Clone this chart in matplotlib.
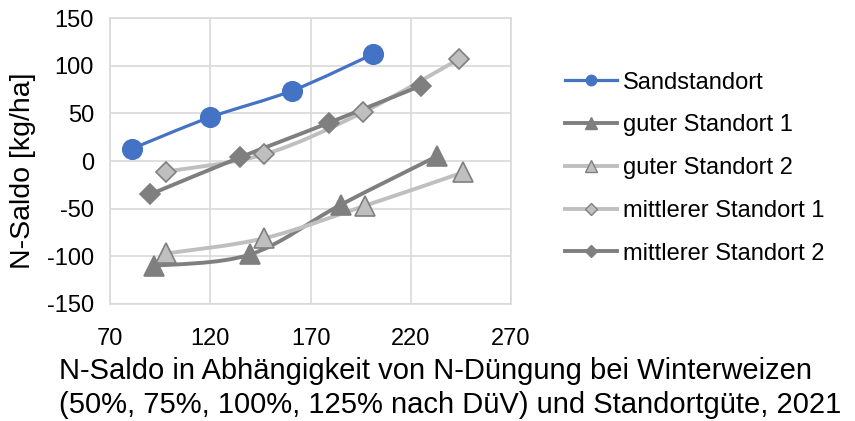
import numpy as np
import matplotlib
matplotlib.use('Agg')
import matplotlib.pyplot as plt
from matplotlib.path import Path
from matplotlib.patches import PathPatch
from matplotlib.lines import Line2D

plt.rcParams['font.family'] = ['Liberation Sans', 'DejaVu Sans']

# values
series_names = ['Sandstandort', 'guter Standort 1', 'guter Standort 2',
                'mittlerer Standort 1', 'mittlerer Standort 2']
x_sand = [81, 120, 161, 201]
y_sand = [13, 46, 74, 112]
x_gut1 = [92, 140, 185, 233]
y_gut1 = [-110, -98, -46, 5]
x_gut2 = [98, 147, 197, 246]
y_gut2 = [-97, -81, -47, -12]
x_mit1 = [98, 147, 196, 244]
y_mit1 = [-11, 7, 51, 107]
x_mit2 = [90, 135, 179, 225]
y_mit2 = [-35, 4, 40, 79]

xticks = [70, 120, 170, 220, 270]
yticks = [-150, -100, -50, 0, 50, 100, 150]

title_1 = 'N-Saldo in Abhängigkeit von N-Düngung bei Winterweizen'
title_2 = '(50%, 75%, 100%, 125% nach DüV) und Standortgüte, 2021'

blue = '#4472C4'
dark = '#7F7F7F'
light = '#BFBFBF'

styles = [
    dict(color=blue, lw=2.3, marker='o', mfc=blue, mec=blue, ms=14, lms=7.5),
    dict(color=dark, lw=2.8, marker='^', mfc=dark, mec=dark, ms=15, lms=9),
    dict(color=light, lw=2.8, marker='^', mfc=light, mec=dark, ms=15, lms=9),
    dict(color=light, lw=2.8, marker='D', mfc=light, mec=dark, ms=10.5, lms=6.5),
    dict(color=dark, lw=2.8, marker='D', mfc=dark, mec=dark, ms=10.5, lms=6.5),
]
data = [(x_sand, y_sand), (x_gut1, y_gut1), (x_gut2, y_gut2),
        (x_mit1, y_mit1), (x_mit2, y_mit2)]


def smooth_path(xs, ys):
    # Excel-like smoothed line: cubic bezier between the points
    p = np.column_stack([xs, ys]).astype(float)
    verts = [p[0]]
    codes = [Path.MOVETO]
    n = len(p)
    for i in range(n - 1):
        p0 = p[i - 1] if i > 0 else p[i]
        p1 = p[i]
        p2 = p[i + 1]
        p3 = p[i + 2] if i + 2 < n else p[i + 1]
        c1 = p1 + (p2 - p0) / 6.0
        c2 = p2 - (p3 - p1) / 6.0
        verts += [c1, c2, p2]
        codes += [Path.CURVE4] * 3
    return Path(verts, codes)


fig = plt.figure(figsize=(8.55, 4.21), dpi=100)
ax = fig.add_axes([0.1287, 0.278, 0.469, 0.679])

handles = []
for (xs, ys), st, name in zip(data, styles, series_names):
    ax.add_patch(PathPatch(smooth_path(xs, ys), fill=False, edgecolor=st['color'],
                           lw=st['lw'], capstyle='round', joinstyle='round', zorder=3))
    ax.plot(xs, ys, linestyle='none', marker=st['marker'], ms=st['ms'],
            mfc=st['mfc'], mec=st['mec'], mew=1.2, zorder=4)
    handles.append(Line2D([], [], color=st['color'], lw=st['lw'], marker=st['marker'],
                          ms=st['lms'], mfc=st['mfc'], mec=st['mec'], mew=1.0))

ax.set_xlim(70, 270)
ax.set_ylim(-150, 150)
ax.set_xticks(xticks)
ax.set_yticks(yticks)
ax.set_yticklabels([str(v) for v in yticks])
ax.grid(True, color='#D9D9D9', lw=1.2)
ax.set_axisbelow(True)
for s in ax.spines.values():
    s.set_color('#D9D9D9')
    s.set_linewidth(1.2)
ax.tick_params(length=0, labelsize=17, colors='#000000')
ax.tick_params(axis='x', pad=17)
ax.tick_params(axis='y', pad=11.5)

fig.text(23 / 855, 1 - 171 / 421, 'N-Saldo [kg/ha]', fontsize=20.5,
         rotation=90, ha='center', va='center')

fig.text(59 / 855, 1 - 379 / 421, title_1, fontsize=21, ha='left', va='baseline')
fig.text(59 / 855, 1 - 413 / 421, title_2, fontsize=21, ha='left', va='baseline')

fig.legend(handles=handles, labels=series_names, loc='upper left',
           bbox_to_anchor=(0.661, 0.83), frameon=False, fontsize=17,
           handlelength=2.2, handletextpad=0.25, labelspacing=0.88,
           borderaxespad=0, borderpad=0)

fig.savefig('out.png', dpi=100)
